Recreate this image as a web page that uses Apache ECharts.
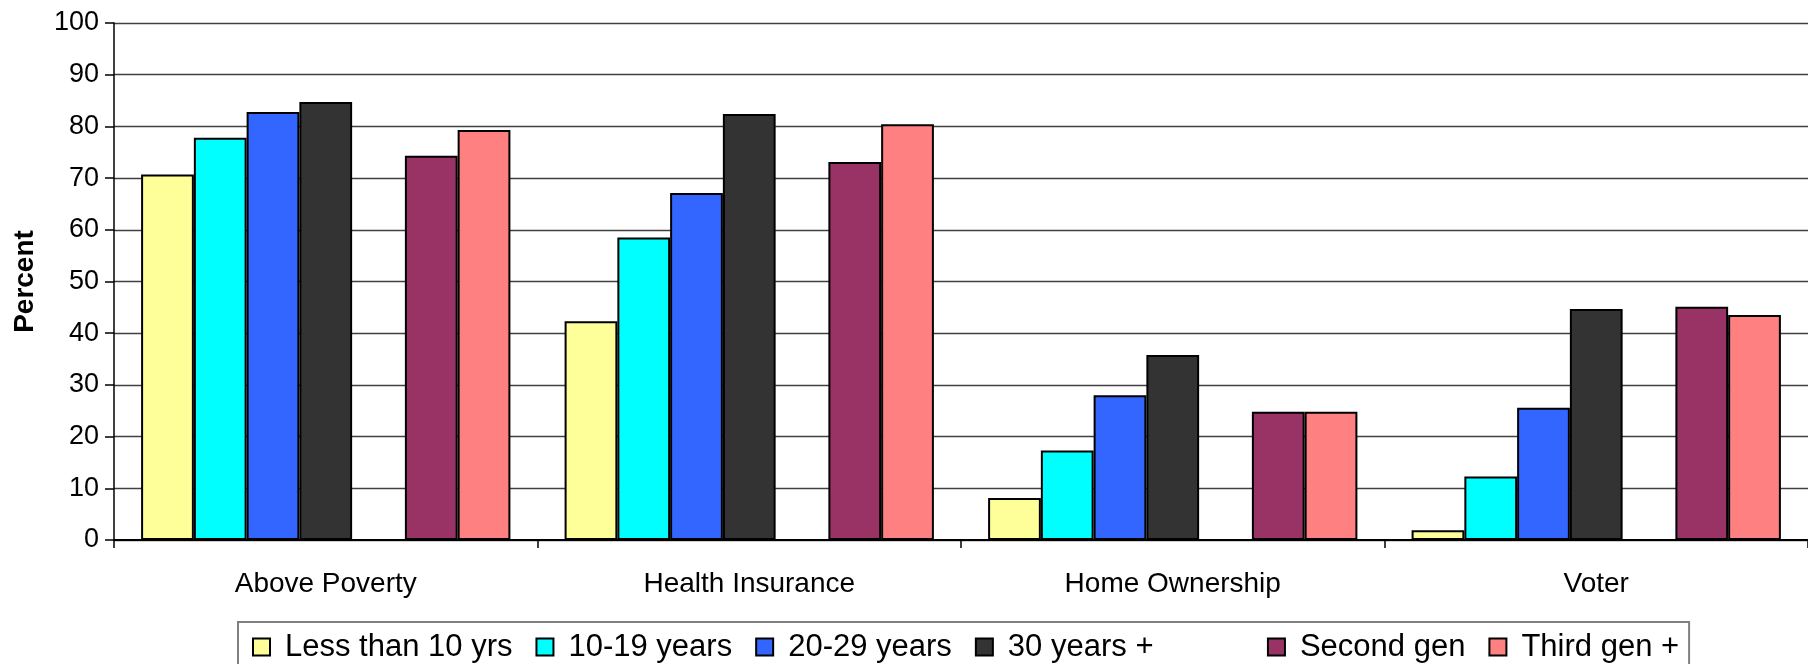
<!DOCTYPE html>
<html>
<head>
<meta charset="utf-8">
<script src="https://cdn.jsdelivr.net/npm/echarts@6/dist/echarts.min.js"></script>
<style>
html,body{margin:0;padding:0;background:#fff;}
#chart{width:1808px;height:664px;}
</style>
</head>
<body>
<div id="chart"></div>
<script>
const categories = ['Above Poverty', 'Health Insurance', 'Home Ownership', 'Voter'];
const yTicks = [0, 10, 20, 30, 40, 50, 60, 70, 80, 90, 100];
const lessThan10 = [70.7, 42.3, 8.1, 1.9];
const years10to19 = [77.8, 58.5, 17.3, 12.3];
const years20to29 = [82.8, 67.1, 28.0, 25.6];
const years30plus = [84.7, 82.4, 35.8, 44.7];
const blankSeries = [null, null, null, null];
const secondGen = [74.3, 73.1, 24.8, 45.1];
const thirdGen = [79.3, 80.4, 24.8, 43.5];
const seriesNames = ['Less than 10 yrs', '10-19 years', '20-29 years', '30 years +', '\u00a0\u00a0\u00a0\u00a0', 'Second gen', 'Third gen +'];
const seriesValues = [lessThan10, years10to19, years20to29, years30plus, blankSeries, secondGen, thirdGen];
const seriesColors = ['#FFFF99', '#00FFFF', '#3366FF', '#333333', 'transparent', '#993366', '#FF8080'];

const FONT = '"Liberation Sans", Arial, Helvetica, sans-serif';
const chart = echarts.init(document.getElementById('chart'), null, {renderer: 'canvas'});
const option = {
  animation: false,
  backgroundColor: '#ffffff',
  grid: {left: 114, width: 1706, top: 23, height: 517, containLabel: false},
  legend: {
    data: seriesNames,
    left: 238,
    top: 622,
    orient: 'horizontal',
    selectedMode: false,
    icon: 'rect',
    itemWidth: 17,
    itemHeight: 17,
    itemGap: 23,
    padding: [8, 10, 40, 14],
    borderColor: '#808080',
    borderWidth: 2,
    textStyle: {fontFamily: FONT, fontSize: 31, color: '#000', padding: [0, 0, 0, 10], lineHeight: 34}
  },
  xAxis: {
    type: 'category',
    data: categories,
    boundaryGap: true,
    axisLine: {show: true, lineStyle: {color: '#000', width: 2}},
    axisTick: {show: true, length: 8, alignWithLabel: false, lineStyle: {color: '#000', width: 1.5}},
    axisLabel: {fontFamily: FONT, fontSize: 28, color: '#000', margin: 30}
  },
  yAxis: {
    type: 'value',
    min: yTicks[0],
    max: yTicks[yTicks.length - 1],
    interval: 10,
    name: 'Percent',
    nameLocation: 'middle',
    nameRotate: 90,
    nameGap: 75,
    nameTextStyle: {fontFamily: FONT, fontSize: 28, fontWeight: 'bold', color: '#000'},
    axisLine: {show: true, lineStyle: {color: '#000', width: 1.5}},
    axisTick: {show: true, length: 9, lineStyle: {color: '#000', width: 1.5}},
    axisLabel: {fontFamily: FONT, fontSize: 27, color: '#000', margin: 15},
    splitLine: {show: true, lineStyle: {color: '#404040', width: 1.3}}
  },
  series: seriesNames.map((name, i) => ({
    name: name,
    type: 'bar',
    data: seriesValues[i],
    barGap: '0%',
    barCategoryGap: '12.8%',
    itemStyle: {
      color: seriesColors[i],
      borderColor: seriesColors[i] === 'transparent' ? 'transparent' : '#000',
      borderWidth: 2
    },
    emphasis: {disabled: true}
  }))
};
chart.setOption(option);
</script>
</body>
</html>
